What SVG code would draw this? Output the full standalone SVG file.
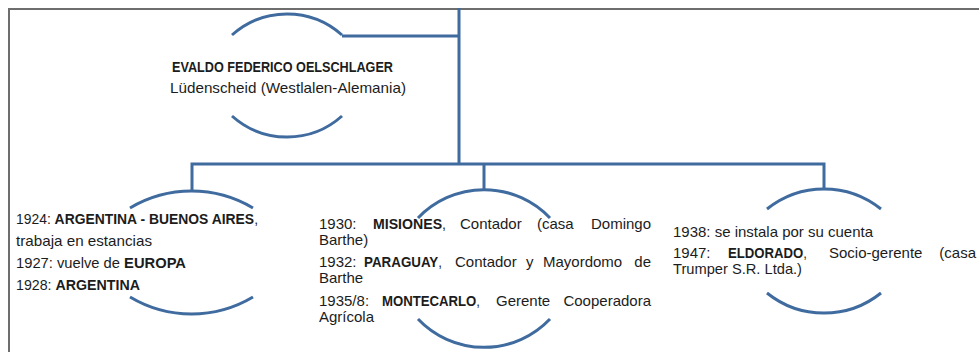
<svg xmlns="http://www.w3.org/2000/svg" width="979" height="352" viewBox="0 0 979 352">
<style>
.frame{fill:none;stroke:#6e6e6e;stroke-width:2}
.arc{fill:none;stroke:#3f6b9f;stroke-width:3;stroke-linecap:butt}
.con{fill:none;stroke:#3f6b9f;stroke-width:3;stroke-linejoin:miter}
text{font-family:"Liberation Sans",Arial,sans-serif;font-size:15px;fill:#1c1c1c}
.b{font-weight:bold}
</style>
<rect width="979" height="352" fill="#ffffff"/>
<g id="frame">
<path class="frame" d="M9,352 V9 H979"/>
</g>
<g id="connectors">
<path class="con" d="M342,36 H459"/>
<path class="con" d="M459,8 V164"/>
<path class="con" d="M192,190 V164 H824 V189"/>
<path class="con" d="M484,164 V189"/>
</g>
<g id="root">
<path class="arc" d="M232,35 A82.5,82.5 0 0 1 342,35"/>
<path class="arc" d="M232,116 A82.5,82.5 0 0 0 342,116"/>
<text class="b" x="172" y="71.5" textLength="221" lengthAdjust="spacingAndGlyphs">EVALDO FEDERICO OELSCHLAGER</text>
<text x="170" y="93" textLength="236" lengthAdjust="spacingAndGlyphs">Lüdenscheid (Westlalen-Alemania)</text>
</g>
<g id="node-argentina">
<path class="arc" d="M130,208 A120,120 0 0 1 253,208"/>
<path class="arc" d="M130,297 A120,120 0 0 0 253,297"/>
<text x="16" y="224" textLength="242" lengthAdjust="spacingAndGlyphs">1924: <tspan class="b">ARGENTINA - BUENOS AIRES</tspan>,</text>
<text x="16" y="246" textLength="136" lengthAdjust="spacingAndGlyphs">trabaja en estancias</text>
<text x="16" y="268" textLength="170" lengthAdjust="spacingAndGlyphs">1927: vuelve de <tspan class="b">EUROPA</tspan></text>
<text x="16" y="290" textLength="124" lengthAdjust="spacingAndGlyphs">1928: <tspan class="b">ARGENTINA</tspan></text>
</g>
<g id="node-misiones">
<path class="arc" d="M418,218 A91,91 0 0 1 550,218"/>
<path class="arc" d="M418,319 A91,91 0 0 0 550,319"/>
<text x="319" y="229">1930:</text>
<text x="373" y="229" textLength="73" lengthAdjust="spacingAndGlyphs"><tspan class="b">MISIONES</tspan>,</text>
<text x="460" y="229">Contador</text>
<text x="537" y="229">(casa</text>
<text x="651" y="229" text-anchor="end">Domingo</text>
<text x="319" y="245">Barthe)</text>
<text x="319" y="267">1932:</text>
<text x="364" y="267" textLength="78" lengthAdjust="spacingAndGlyphs"><tspan class="b">PARAGUAY</tspan>,</text>
<text x="455" y="267">Contador</text>
<text x="526" y="267">y</text>
<text x="543" y="267">Mayordomo</text>
<text x="651" y="267" text-anchor="end">de</text>
<text x="319" y="283">Barthe</text>
<text x="319" y="306">1935/8:</text>
<text x="382" y="306" textLength="98" lengthAdjust="spacingAndGlyphs"><tspan class="b">MONTECARLO</tspan>,</text>
<text x="496" y="306">Gerente</text>
<text x="651" y="306" text-anchor="end">Cooperadora</text>
<text x="319" y="322">Agrícola</text>
</g>
<g id="node-eldorado">
<path class="arc" d="M767,209 A91,91 0 0 1 881,209"/>
<path class="arc" d="M767,293 A91,91 0 0 0 881,293"/>
<text x="673" y="237" textLength="200" lengthAdjust="spacingAndGlyphs">1938: se instala por su cuenta</text>
<text x="673" y="258">1947:</text>
<text x="728" y="258" textLength="79" lengthAdjust="spacingAndGlyphs"><tspan class="b">ELDORADO</tspan>,</text>
<text x="829" y="258">Socio-gerente</text>
<text x="976" y="258" text-anchor="end">(casa</text>
<text x="673" y="274" textLength="129" lengthAdjust="spacingAndGlyphs">Trumper S.R. Ltda.)</text>
</g>
</svg>
